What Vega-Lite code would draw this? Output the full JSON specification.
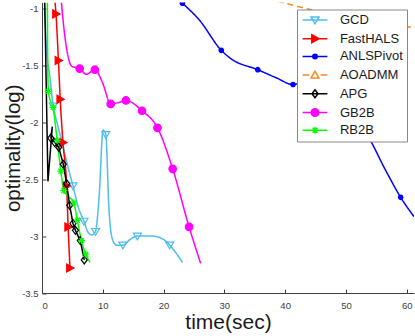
{
  "$schema": "https://vega.github.io/schema/vega-lite/v6.json",
  "width": 372,
  "height": 290.5,
  "autosize": {"type": "none"},
  "padding": {"left": 42, "top": 2.5, "right": 1, "bottom": 43},
  "background": "white",
  "config": {
    "view": {"stroke": null},
    "font": "Liberation Sans",
    "axis": {
      "labelFont": "Liberation Sans", "labelFontSize": 9.5, "labelColor": "#404040",
      "domainColor": "#404040", "tickColor": "#404040", "tickSize": -4, "grid": false,
      "titleFont": "Liberation Sans", "titleFontSize": 21, "titleFontWeight": "normal", "titleColor": "#1a1a1a"
    },
    "legend": {
      "orient": "top-right", "offset": 7, "title": null,
      "strokeColor": "#888888", "fillColor": "white", "padding": 4,
      "labelFont": "Liberation Sans", "labelFontSize": 13, "labelColor": "#1a1a1a",
      "symbolSize": 64, "symbolStrokeWidth": 1.5, "symbolOffset": 7.5, "labelOffset": 18.4,
      "rowPadding": 3.7, "symbolOpacity": 1
    }
  },
  "data": {"values": [
    {"s":"GCD","i":1,"t":0.4,"v":-0.95,"m":0},
    {"s":"GCD","i":2,"t":0.8,"v":-1.4,"m":0},
    {"s":"GCD","i":3,"t":1.2,"v":-1.56,"m":0},
    {"s":"GCD","i":4,"t":1.85,"v":-1.86,"m":1},
    {"s":"GCD","i":5,"t":2.6,"v":-2.03,"m":0},
    {"s":"GCD","i":6,"t":3.4,"v":-2.2,"m":0},
    {"s":"GCD","i":7,"t":4.3,"v":-2.4,"m":0},
    {"s":"GCD","i":8,"t":5.1,"v":-2.56,"m":1},
    {"s":"GCD","i":9,"t":6.0,"v":-2.75,"m":0},
    {"s":"GCD","i":10,"t":6.9,"v":-2.87,"m":1},
    {"s":"GCD","i":11,"t":7.6,"v":-2.97,"m":0},
    {"s":"GCD","i":12,"t":8.2,"v":-2.99,"m":0},
    {"s":"GCD","i":13,"t":8.8,"v":-2.96,"m":1},
    {"s":"GCD","i":14,"t":9.4,"v":-2.65,"m":0},
    {"s":"GCD","i":15,"t":10.05,"v":-2.07,"m":0},
    {"s":"GCD","i":16,"t":10.5,"v":-2.11,"m":1},
    {"s":"GCD","i":17,"t":11.0,"v":-2.75,"m":0},
    {"s":"GCD","i":18,"t":11.6,"v":-3.03,"m":0},
    {"s":"GCD","i":19,"t":12.3,"v":-3.08,"m":0},
    {"s":"GCD","i":20,"t":13.3,"v":-3.08,"m":1},
    {"s":"GCD","i":21,"t":14.5,"v":-3.03,"m":0},
    {"s":"GCD","i":22,"t":15.7,"v":-3.0,"m":1},
    {"s":"GCD","i":23,"t":18.0,"v":-3.0,"m":0},
    {"s":"GCD","i":24,"t":20.0,"v":-3.03,"m":0},
    {"s":"GCD","i":25,"t":21.0,"v":-3.08,"m":1},
    {"s":"GCD","i":26,"t":23.1,"v":-3.23,"m":0},
    {"s":"FastHALS","i":1,"t":2.15,"v":-0.95,"m":0},
    {"s":"FastHALS","i":2,"t":2.3,"v":-1.05,"m":1},
    {"s":"FastHALS","i":3,"t":2.7,"v":-1.46,"m":1},
    {"s":"FastHALS","i":4,"t":3.0,"v":-1.8,"m":1},
    {"s":"FastHALS","i":5,"t":3.45,"v":-2.18,"m":1},
    {"s":"FastHALS","i":6,"t":4.05,"v":-2.56,"m":1},
    {"s":"FastHALS","i":7,"t":4.3,"v":-2.92,"m":1},
    {"s":"FastHALS","i":8,"t":4.6,"v":-3.28,"m":1},
    {"s":"ANLSPivot","i":1,"t":23.1,"v":-0.956,"m":1},
    {"s":"ANLSPivot","i":2,"t":25.9,"v":-1.105,"m":0},
    {"s":"ANLSPivot","i":3,"t":29.5,"v":-1.37,"m":1},
    {"s":"ANLSPivot","i":4,"t":31.0,"v":-1.44,"m":0},
    {"s":"ANLSPivot","i":5,"t":35.5,"v":-1.54,"m":1},
    {"s":"ANLSPivot","i":6,"t":38.5,"v":-1.61,"m":0},
    {"s":"ANLSPivot","i":7,"t":41.3,"v":-1.67,"m":1},
    {"s":"ANLSPivot","i":8,"t":43.0,"v":-1.65,"m":0},
    {"s":"ANLSPivot","i":9,"t":47.5,"v":-1.78,"m":1},
    {"s":"ANLSPivot","i":10,"t":53.6,"v":-2.12,"m":1},
    {"s":"ANLSPivot","i":11,"t":56.5,"v":-2.42,"m":0},
    {"s":"ANLSPivot","i":12,"t":59.0,"v":-2.66,"m":1},
    {"s":"ANLSPivot","i":13,"t":61.2,"v":-2.83,"m":0},
    {"s":"AOADMM","i":1,"t":34.0,"v":-0.87,"m":0},
    {"s":"AOADMM","i":2,"t":40.0,"v":-0.956,"m":0},
    {"s":"AOADMM","i":3,"t":44.0,"v":-1.01,"m":0},
    {"s":"AOADMM","i":4,"t":52.0,"v":-1.1,"m":0},
    {"s":"AOADMM","i":5,"t":61.2,"v":-1.17,"m":0},
    {"s":"APG","i":1,"t":0.45,"v":-0.95,"m":0},
    {"s":"APG","i":2,"t":0.98,"v":-2.52,"m":0},
    {"s":"APG","i":3,"t":1.7,"v":-2.04,"m":0},
    {"s":"APG","i":4,"t":1.45,"v":-2.14,"m":1},
    {"s":"APG","i":5,"t":2.1,"v":-2.18,"m":1},
    {"s":"APG","i":6,"t":2.75,"v":-2.22,"m":1},
    {"s":"APG","i":7,"t":3.5,"v":-2.37,"m":1},
    {"s":"APG","i":8,"t":4.05,"v":-2.54,"m":1},
    {"s":"APG","i":9,"t":4.55,"v":-2.73,"m":1},
    {"s":"APG","i":10,"t":5.1,"v":-2.89,"m":1},
    {"s":"APG","i":11,"t":5.5,"v":-2.95,"m":1},
    {"s":"APG","i":12,"t":6.3,"v":-3.04,"m":1},
    {"s":"APG","i":13,"t":6.95,"v":-3.21,"m":1},
    {"s":"GB2B","i":1,"t":3.2,"v":-0.95,"m":0},
    {"s":"GB2B","i":2,"t":3.7,"v":-1.22,"m":0},
    {"s":"GB2B","i":3,"t":4.2,"v":-1.4,"m":0},
    {"s":"GB2B","i":4,"t":4.9,"v":-1.51,"m":0},
    {"s":"GB2B","i":5,"t":6.2,"v":-1.53,"m":1},
    {"s":"GB2B","i":6,"t":7.3,"v":-1.58,"m":0},
    {"s":"GB2B","i":7,"t":8.7,"v":-1.54,"m":1},
    {"s":"GB2B","i":8,"t":10.0,"v":-1.66,"m":0},
    {"s":"GB2B","i":9,"t":11.3,"v":-1.84,"m":1},
    {"s":"GB2B","i":10,"t":12.5,"v":-1.83,"m":0},
    {"s":"GB2B","i":11,"t":13.8,"v":-1.81,"m":1},
    {"s":"GB2B","i":12,"t":16.45,"v":-1.9,"m":1},
    {"s":"GB2B","i":13,"t":19.0,"v":-2.05,"m":1},
    {"s":"GB2B","i":14,"t":21.5,"v":-2.41,"m":1},
    {"s":"GB2B","i":15,"t":24.2,"v":-2.92,"m":1},
    {"s":"GB2B","i":16,"t":26.1,"v":-3.24,"m":0},
    {"s":"RB2B","i":1,"t":0.88,"v":-0.95,"m":0},
    {"s":"RB2B","i":2,"t":0.95,"v":-1.5,"m":0},
    {"s":"RB2B","i":3,"t":1.05,"v":-1.73,"m":1},
    {"s":"RB2B","i":4,"t":1.3,"v":-1.8,"m":0},
    {"s":"RB2B","i":5,"t":1.8,"v":-1.87,"m":1},
    {"s":"RB2B","i":6,"t":2.5,"v":-2.16,"m":1},
    {"s":"RB2B","i":7,"t":3.1,"v":-2.43,"m":1},
    {"s":"RB2B","i":8,"t":3.6,"v":-2.6,"m":1},
    {"s":"RB2B","i":9,"t":4.3,"v":-2.65,"m":0},
    {"s":"RB2B","i":10,"t":5.25,"v":-2.71,"m":1},
    {"s":"RB2B","i":11,"t":5.8,"v":-2.86,"m":1},
    {"s":"RB2B","i":12,"t":6.5,"v":-3.04,"m":1},
    {"s":"RB2B","i":13,"t":7.2,"v":-3.16,"m":1},
    {"s":"RB2B","i":14,"t":7.9,"v":-3.23,"m":0}
  ]},
  "encoding": {
    "x": {"field": "t", "type": "quantitative",
      "scale": {"domain": [0, 61.2], "nice": false, "zero": false},
      "axis": {"title": "time(sec)", "values": [0,10,20,30,40,50,60], "labelPadding": 11, "titlePadding": 2}},
    "y": {"field": "v", "type": "quantitative",
      "scale": {"domain": [-3.5, -0.95], "nice": false, "zero": false},
      "axis": {"title": "optimality(log)", "values": [-3.5,-3,-2.5,-2,-1.5,-1], "labelPadding": 8,
        "labelExpr": "datum.value < 0 ? '-' + format(-datum.value, '~g') : format(datum.value, '~g')",
        "titlePadding": 2.5, "titleBaseline": "alphabetic", "titleFontSize": 20.5}}
  },
  "layer": [
    {
      "transform": [{"filter": "datum.s !== 'APG'"}],
      "mark": {"type": "line", "interpolate": "monotone", "strokeWidth": 1.5, "clip": true},
      "encoding": {
        "order": {"field": "i", "type": "quantitative"},
        "color": {"field": "s", "type": "nominal", "legend": null,
          "scale": {"domain": ["GCD","FastHALS","ANLSPivot","AOADMM","APG","GB2B","RB2B"],
            "range": ["#4DBEEE","#FF0000","#0000FF","#F28C28","#000000","#FF00FF","#00FF00"]}},
        "strokeDash": {"field": "s", "type": "nominal", "legend": null,
          "scale": {"domain": ["GCD","FastHALS","ANLSPivot","AOADMM","APG","GB2B","RB2B"],
            "range": [[1,0],[1,0],[1,0],[6,4],[1,0],[1,0],[1,0]]}}
      }
    },
    {
      "transform": [{"filter": "datum.s === 'APG'"}],
      "mark": {"type": "line", "interpolate": "linear", "strokeWidth": 1.5, "clip": true},
      "encoding": {
        "order": {"field": "i", "type": "quantitative"},
        "color": {"field": "s", "type": "nominal", "legend": null}
      }
    },
    {
      "transform": [{"filter": "datum.m === 1"}],
      "mark": {"type": "point", "filled": false, "strokeWidth": 1.2, "opacity": 1, "size": 100, "clip": true},
      "encoding": {
        "shape": {"field": "s", "type": "nominal", "legend": null,
          "scale": {"domain": ["GCD","FastHALS","ANLSPivot","AOADMM","APG","GB2B","RB2B"],
            "range": [
              "M-0.8,-0.6L0.8,-0.6L0,0.75Z",
              "M-0.65,-0.8L0.8,0L-0.65,0.8Z",
              "M-0.45,0A0.45,0.45 0 1,0 0.45,0A0.45,0.45 0 1,0 -0.45,0Z",
              "M-0.8,0.6L0.8,0.6L0,-0.75Z",
              "M0,-0.8L0.6,0L0,0.8L-0.6,0Z",
              "M-0.75,0A0.75,0.75 0 1,0 0.75,0A0.75,0.75 0 1,0 -0.75,0Z",
              "M-0.7,0H0.7M0,-0.7V0.7M-0.5,-0.5L0.5,0.5M-0.5,0.5L0.5,-0.5"
            ]}},
        "stroke": {"field": "s", "type": "nominal", "legend": null,
          "scale": {"domain": ["GCD","FastHALS","ANLSPivot","AOADMM","APG","GB2B","RB2B"],
            "range": ["#4DBEEE","#FF0000","#0000FF","#F28C28","#000000","#FF00FF","#00FF00"]}},
        "fill": {"field": "s", "type": "nominal", "legend": null,
          "scale": {"domain": ["GCD","FastHALS","ANLSPivot","AOADMM","APG","GB2B","RB2B"],
            "range": ["transparent","#FF0000","#0000FF","transparent","transparent","#FF00FF","transparent"]}}
      }
    },
    {
      "transform": [{"filter": "datum.m === 1"}],
      "mark": {"type": "point", "filled": false, "strokeWidth": 1.5, "opacity": 0},
      "encoding": {
        "shape": {"field": "s", "type": "nominal",
          "scale": {"domain": ["GCD","FastHALS","ANLSPivot","AOADMM","APG","GB2B","RB2B"],
            "range": [
              "M-3.1,0H3.1M-1,-0.75L1,-0.75L0,0.94Z",
              "M-3.1,0H3.1M-0.8,-1L1,0L-0.8,1Z",
              "M-3.1,0H3.1M-0.56,0A0.56,0.56 0 1,0 0.56,0A0.56,0.56 0 1,0 -0.56,0Z",
              "M-3.1,0H-1.4M1.4,0H3.1M-1,0.75L1,0.75L0,-0.94Z",
              "M-3.1,0H3.1M0,-1L0.75,0L0,1L-0.75,0Z",
              "M-3.1,0H3.1M-0.94,0A0.94,0.94 0 1,0 0.94,0A0.94,0.94 0 1,0 -0.94,0Z",
              "M-3.1,0H3.1M0,-0.8V0.8M-0.6,-0.6L0.6,0.6M-0.6,0.6L0.6,-0.6"
            ]}},
        "stroke": {"field": "s", "type": "nominal",
          "scale": {"domain": ["GCD","FastHALS","ANLSPivot","AOADMM","APG","GB2B","RB2B"],
            "range": ["#4DBEEE","#FF0000","#0000FF","#F28C28","#000000","#FF00FF","#00FF00"]}},
        "fill": {"field": "s", "type": "nominal",
          "scale": {"domain": ["GCD","FastHALS","ANLSPivot","AOADMM","APG","GB2B","RB2B"],
            "range": ["transparent","#FF0000","#0000FF","transparent","transparent","#FF00FF","transparent"]}}
      }
    }
  ],
  "resolve": {"scale": {"shape": "independent", "stroke": "independent", "fill": "independent"}}
}
